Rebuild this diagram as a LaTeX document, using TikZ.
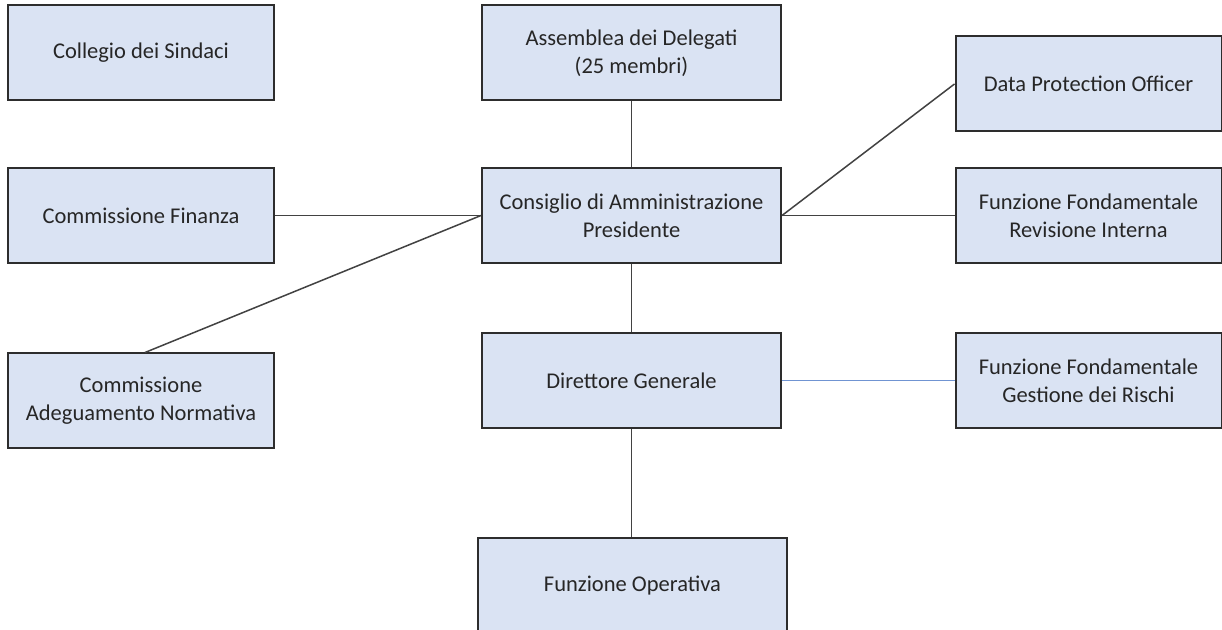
\documentclass[tikz,border=0pt]{standalone}
\usepackage{fontspec}
\setmainfont{Carlito}
\definecolor{boxfill}{RGB}{218,227,243}
\definecolor{boxline}{RGB}{45,45,45}
\definecolor{txt}{RGB}{38,38,38}
\definecolor{blueline}{RGB}{112,148,210}
\begin{document}
\begin{tikzpicture}[x=0.5pt,y=-0.5pt,
  orgbox/.style={draw=boxline,line width=1pt,fill=boxfill,text=txt,align=center,
    inner sep=0pt,font=\fontsize{11.25}{14}\selectfont,minimum height=47.5pt},
  side/.style={orgbox,minimum width=133pt},
  mid/.style={orgbox,minimum width=149.5pt},
  conn/.style={draw=boxline!90,line width=0.75pt}]
\useasboundingbox[fill=white] (0,0) rectangle (1222,630);
\node[side] (sind) at (141,53) {Collegio dei Sindaci};
\node[mid]  (ass)  at (631.5,53) {Assemblea dei Delegati\\(25 membri)};
\node[side] (dpo)  at (1088.5,84) {Data Protection Officer};
\node[side] (fin)  at (141,215.5) {Commissione Finanza};
\node[mid]  (cons) at (631.5,215.5) {Consiglio di Amministrazione\\Presidente};
\node[side] (rev)  at (1088.5,215.5) {Funzione Fondamentale\\Revisione Interna};
\node[mid]  (dir)  at (631.5,380.5) {Direttore Generale};
\node[side] (ges)  at (1088.5,380.5) {Funzione Fondamentale\\Gestione dei Rischi};
\node[side] (ade)  at (141,401) {Commissione\\Adeguamento Normativa};
\node[orgbox,minimum width=154.5pt] (op) at (632.5,585.5) {Funzione Operativa};
\draw[conn] (ass.south) -- (cons.north);
\draw[conn] (cons.south) -- (dir.north);
\draw[conn] (dir.south) -- (dir.south |- op.north);
\draw[conn] (fin.east) -- (cons.west);
\draw[conn] ([xshift=2pt]ade.north) -- (cons.west);
\draw[conn] (cons.east) -- (dpo.west);
\draw[conn] (cons.east) -- (rev.west);
\draw[draw=blueline,line width=0.75pt] (dir.east) -- (ges.west);
\end{tikzpicture}
\end{document}
